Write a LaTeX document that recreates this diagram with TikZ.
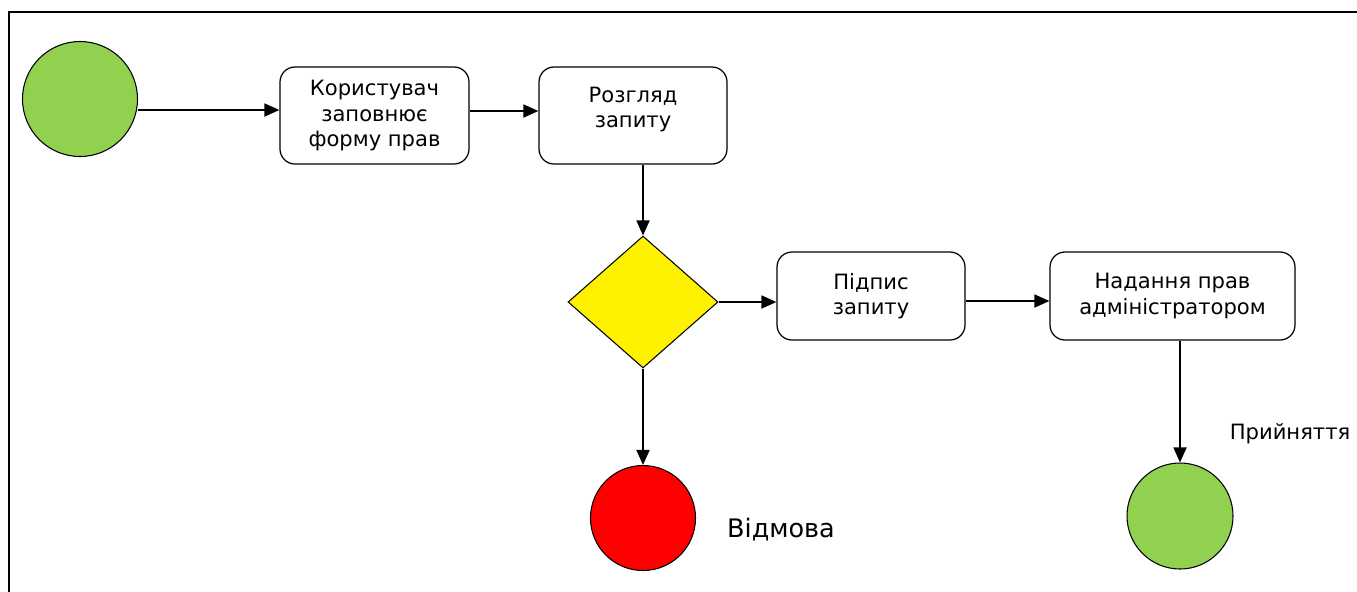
\documentclass[tikz,border=0pt]{standalone}
\usepackage{fontspec}
\setmainfont{DejaVu Sans}
\usetikzlibrary{shapes.geometric,arrows.meta}
\definecolor{startgreen}{HTML}{92D050}
\begin{document}
\begin{tikzpicture}[
  stepbox/.style={draw, rounded corners=0.3cm, line width=0.7pt, align=center, font=\fontsize{12}{14.5}\selectfont, inner sep=0pt},
  event/.style={circle, draw, line width=0.6pt, inner sep=0pt},
  flow/.style={line width=1pt, -{Triangle[length=0.3cm,width=0.26cm]}}
]
\useasboundingbox (0,0) rectangle (27.14,-11.82);
\draw[line width=1.3pt] (0.18,-11.9) -- (0.18,-0.24) -- (27.2,-0.24);
\node[event, fill=startgreen, minimum size=2.3cm] (begin) at (1.60,-1.98) {};
\node[stepbox, minimum width=3.78cm, minimum height=1.94cm] (fill) at (7.49,-2.31) {Користувач\\заповнює\\форму прав};
\node[stepbox, minimum width=3.76cm, minimum height=1.94cm] (review) at (12.66,-2.31) {};
\node[align=center, font=\fontsize{12}{14.5}\selectfont, inner sep=0pt] (reviewtext) at (12.66,-2.19) {Розгляд\\запиту};
\node[diamond, draw, fill=yellow, line width=0.6pt, inner sep=0pt, minimum width=3cm, minimum height=2.64cm] (choice) at (12.86,-6.04) {};
\node[stepbox, minimum width=3.76cm, minimum height=1.76cm] (sign) at (17.42,-5.92) {Підпис\\запиту};
\node[stepbox, minimum width=4.9cm, minimum height=1.76cm] (grant) at (23.45,-5.92) {Надання прав\\адміністратором};
\node[event, fill=red, minimum size=2.1cm] (reject) at (12.86,-10.36) {};
\node[event, fill=startgreen, minimum size=2.12cm] (accept) at (23.60,-10.32) {};
\node[font=\fontsize{14.5}{17}\selectfont] (rejectlabel) at (15.62,-10.60) {Відмова};
\node[font=\fontsize{12}{14}\selectfont] (acceptlabel) at (25.80,-8.68) {Прийняття};
\draw[flow] (begin.east |- 0,-2.20) -- ([yshift=0.11cm]fill.west);
\draw[flow] ([yshift=0.09cm]fill.east) -- ([yshift=0.09cm]review.west);
\draw[flow] (review.south -| choice) -- (choice.north);
\draw[flow] (choice.east) -- (choice.east -| sign.west);
\draw[flow] ([yshift=-0.1cm]sign.east) -- ([yshift=-0.1cm]grant.west);
\draw[flow] (choice.south) -- (reject.north);
\draw[flow] (accept |- grant.south) -- (accept.north);
\end{tikzpicture}
\end{document}
